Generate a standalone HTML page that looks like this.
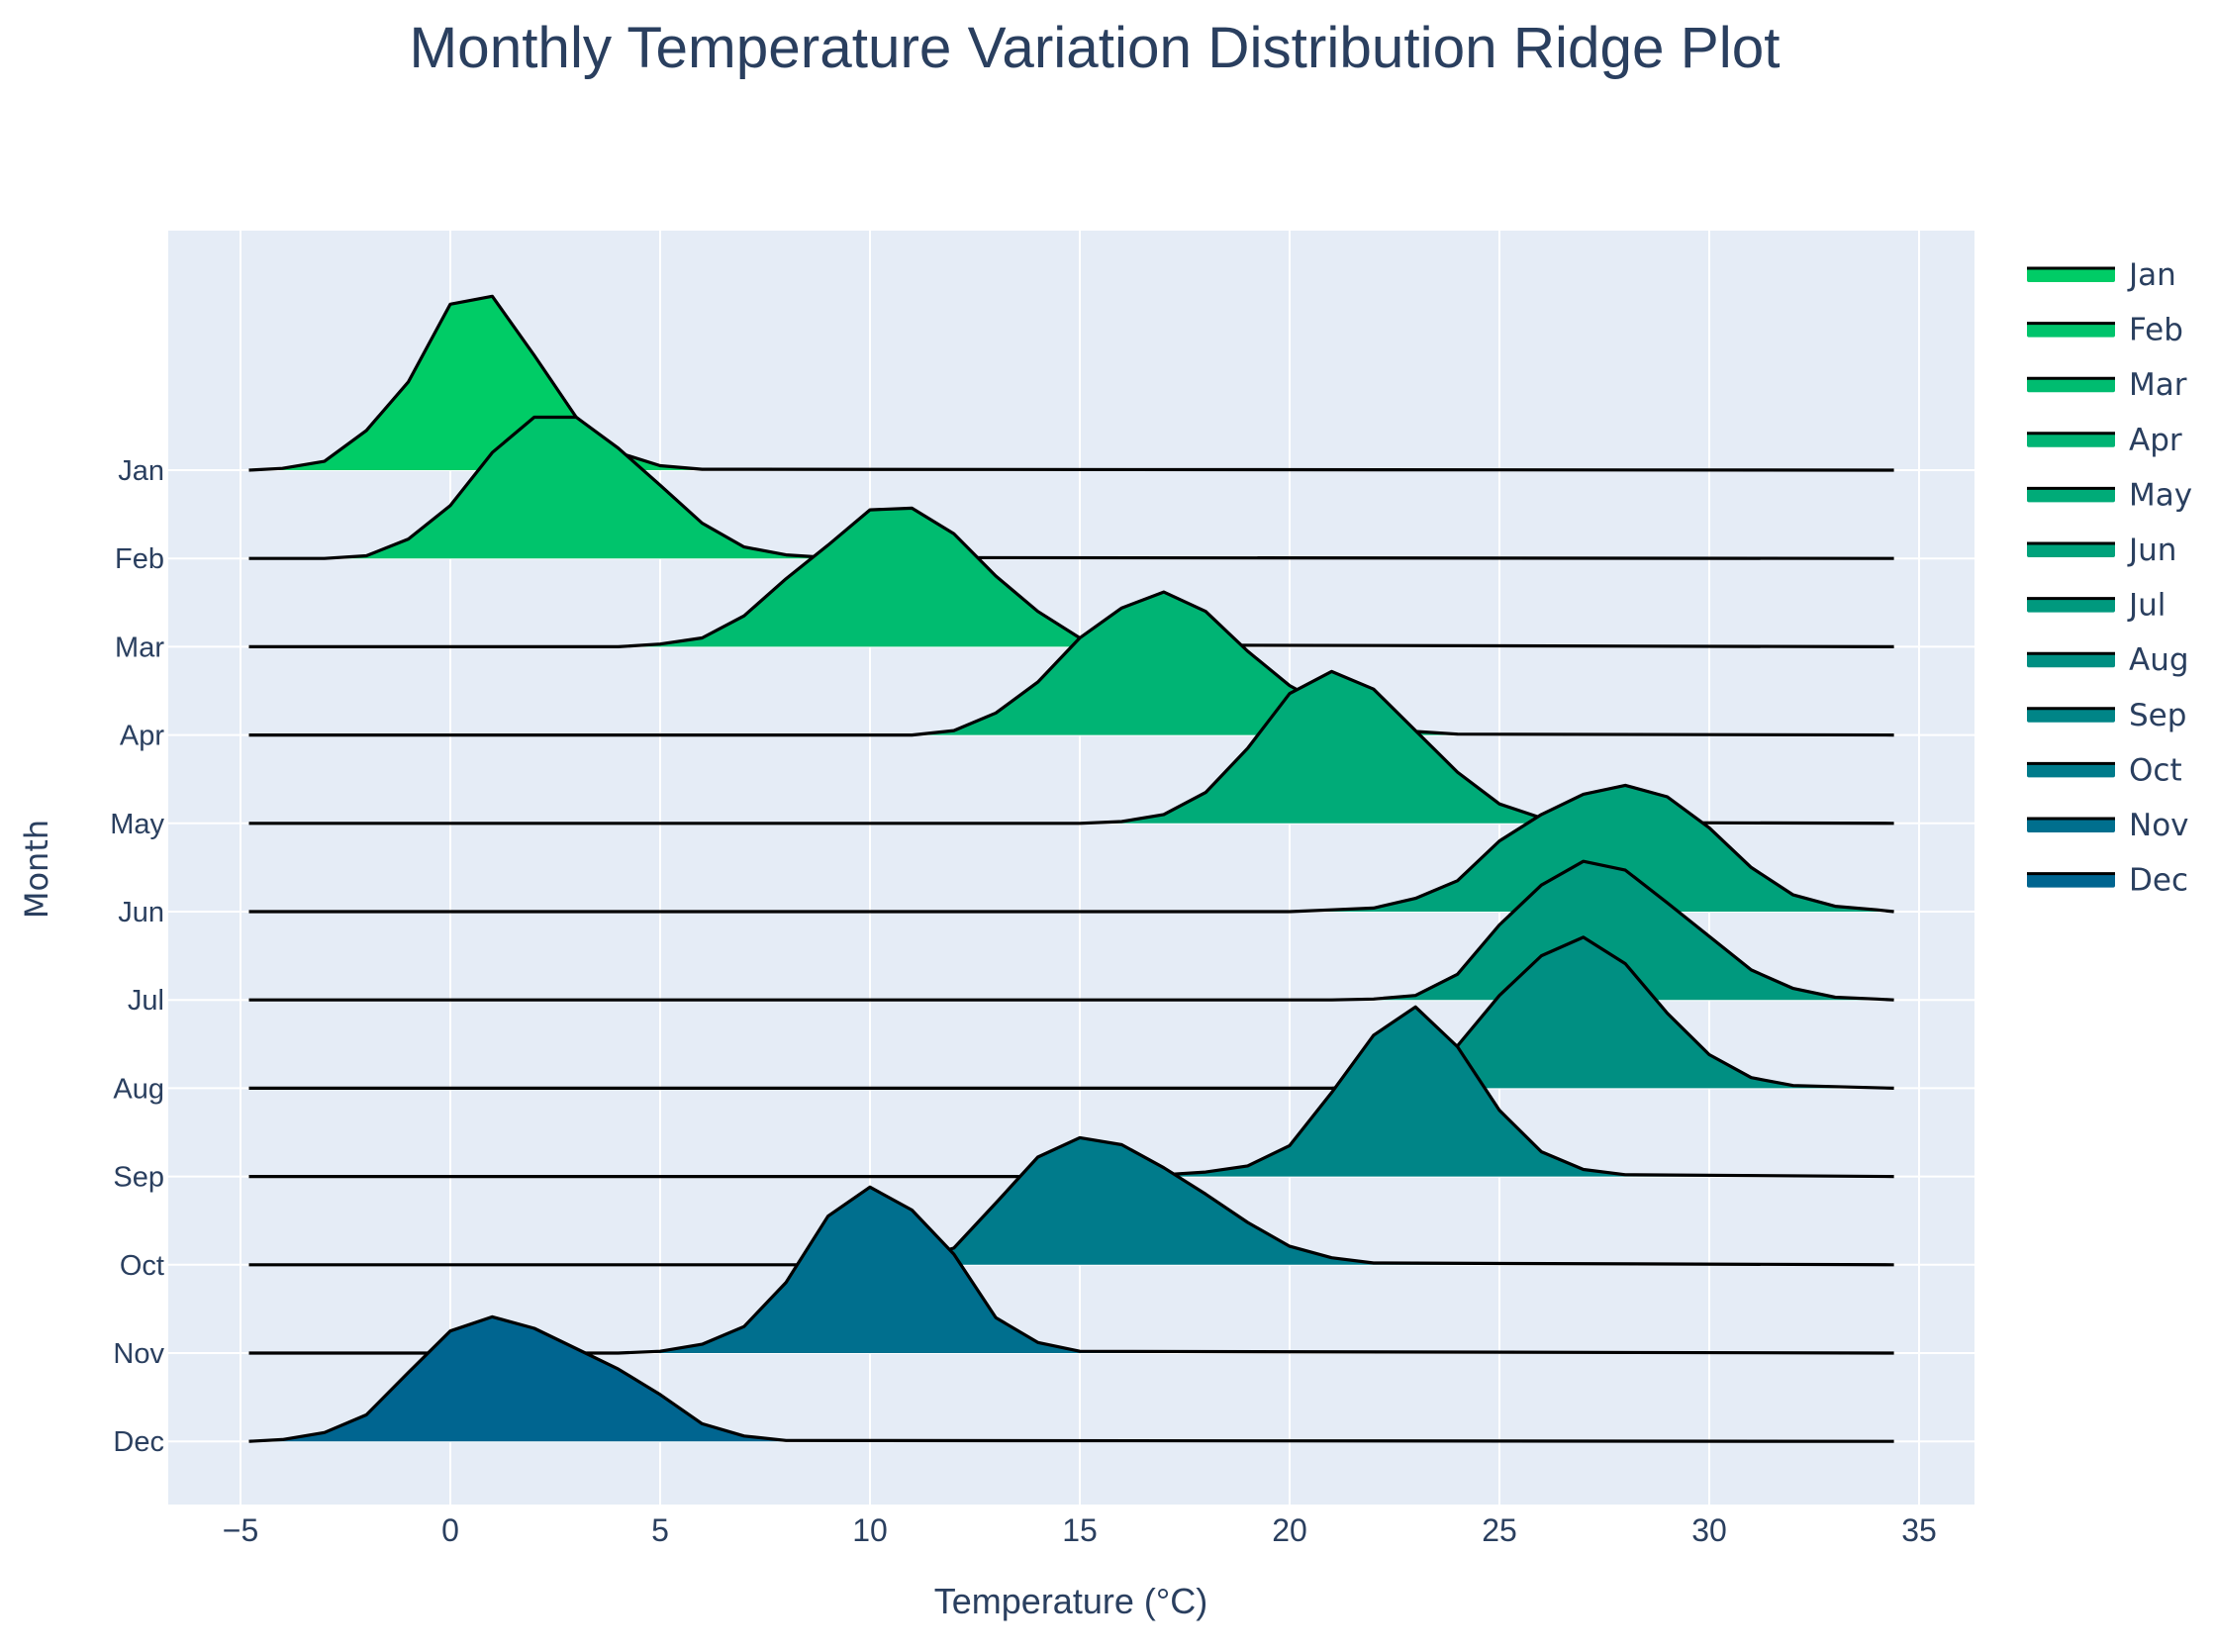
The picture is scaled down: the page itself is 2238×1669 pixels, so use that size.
<!DOCTYPE html>
<html><head><meta charset="utf-8"><style>
html,body{margin:0;padding:0;background:#fff;}
svg{display:block;}
</style></head><body>
<svg id="chart" width="2238" height="1669" viewBox="0 0 2238 1669" xmlns="http://www.w3.org/2000/svg">
<text x="1106" y="68" text-anchor="middle" font-family="Liberation Sans, sans-serif" font-size="58" fill="#2a3f5f" textLength="1385" lengthAdjust="spacingAndGlyphs">Monthly Temperature Variation Distribution Ridge Plot</text>
<rect x="170" y="233" width="1825" height="1287" fill="#e5ecf6"/>
<g id="grid"></g>
<g id="ridges"></g>
<g id="xticks"></g>
<g id="yticks"></g>
<g id="legend"></g>
<text x="1082" y="1630" text-anchor="middle" font-family="Liberation Sans, sans-serif" font-size="36" fill="#2a3f5f">Temperature (°C)</text>
<text transform="translate(48,878) rotate(-90)" text-anchor="middle" font-family="DejaVu Sans, sans-serif" font-size="32" fill="#2a3f5f">Month</text>
</svg>
<script>
const months = ["Jan","Feb","Mar","Apr","May","Jun","Jul","Aug","Sep","Oct","Nov","Dec"];
const xTicks = [-5,0,5,10,15,20,25,30,35];
const tempStart = -5;
// densities at integer temperatures starting from -5 (row-height units)
const janDensity = [0,0.02,0.1,0.45,1.0,1.88,1.97,1.3,0.6,0.2,0.05,0.01];
const febDensity = [0,0,0,0.03,0.22,0.6,1.2,1.6,1.6,1.25,0.83,0.4,0.13,0.04,0.01];
const marDensity = [0,0,0,0,0,0,0,0,0,0,0.03,0.1,0.35,0.77,1.15,1.55,1.57,1.28,0.8,0.4,0.1,0.02];
const aprDensity = [0,0,0,0,0,0,0,0,0,0,0,0,0,0,0,0,0,0.05,0.25,0.6,1.1,1.44,1.62,1.4,0.95,0.56,0.3,0.12,0.04,0.01];
const mayDensity = [0,0,0,0,0,0,0,0,0,0,0,0,0,0,0,0,0,0,0,0,0,0.02,0.1,0.35,0.85,1.47,1.72,1.52,1.05,0.58,0.22,0.06,0.01];
const junDensity = [0,0,0,0,0,0,0,0,0,0,0,0,0,0,0,0,0,0,0,0,0,0,0,0,0,0,0.02,0.04,0.15,0.35,0.8,1.1,1.33,1.43,1.3,0.95,0.5,0.19,0.06,0.02];
const julDensity = [0,0,0,0,0,0,0,0,0,0,0,0,0,0,0,0,0,0,0,0,0,0,0,0,0,0,0,0.01,0.05,0.29,0.85,1.3,1.57,1.47,1.1,0.72,0.34,0.13,0.03,0.01];
const augDensity = [0,0,0,0,0,0,0,0,0,0,0,0,0,0,0,0,0,0,0,0,0,0,0,0,0,0,0,0.03,0.15,0.48,1.05,1.5,1.71,1.41,0.85,0.38,0.12,0.03];
const sepDensity = [0,0,0,0,0,0,0,0,0,0,0,0,0,0,0,0,0,0,0,0,0,0,0.02,0.05,0.12,0.35,0.95,1.6,1.92,1.47,0.75,0.28,0.08,0.02];
const octDensity = [0,0,0,0,0,0,0,0,0,0,0,0,0,0,0,0,0.05,0.19,0.7,1.22,1.44,1.36,1.1,0.8,0.48,0.21,0.08,0.02];
const novDensity = [0,0,0,0,0,0,0,0,0,0,0.02,0.1,0.3,0.8,1.55,1.88,1.62,1.12,0.4,0.12,0.02];
const decDensity = [0,0.02,0.1,0.3,0.78,1.25,1.41,1.28,1.05,0.82,0.53,0.2,0.06,0.01];
const densities = [janDensity,febDensity,marDensity,aprDensity,mayDensity,junDensity,julDensity,augDensity,sepDensity,octDensity,novDensity,decDensity];
const colors = ["#00cc66","#00c46c","#00bc70","#00b474","#00ab78","#00a27b","#00997e","#008f82","#008587","#007b8b","#006f8e","#006590"];

const NS = "http://www.w3.org/2000/svg";
const X0 = 243, PXDEG = 42.4, Y0 = 475, ROW = 89.2;
const lineMin = -4.8, lineMax = 34.4;
function xs(t){ return X0 + (t + 5) * PXDEG; }
function ys(i){ return Y0 + i * ROW; }
function mk(tag, attrs, parent){ const e = document.createElementNS(NS, tag); for (const k in attrs) e.setAttribute(k, attrs[k]); parent.appendChild(e); return e; }

const grid = document.getElementById('grid');
xTicks.forEach(t => {
  const l = mk('line', {x1: xs(t), x2: xs(t), y1: 233, y2: 1520, stroke: '#fff', 'stroke-width': 2}, grid);
  
  
});
months.forEach((m, i) => {
  const l = mk('line', {x1: 170, x2: 1995, y1: ys(i), y2: ys(i), stroke: '#fff', 'stroke-width': 2}, grid);
  
  
});

const ridges = document.getElementById('ridges');
months.forEach((m, i) => {
  const d = densities[i];
  const base = ys(i);
  const pts = [[xs(lineMin), base]];
  d.forEach((v, k) => {
    const t = tempStart + k;
    if (t > lineMin && t < lineMax) pts.push([xs(t), base - v * ROW]);
  });
  pts.push([xs(lineMax), base]);
  const dstr = pts.map((p, k) => (k ? 'L' : 'M') + p[0].toFixed(1) + ',' + p[1].toFixed(1)).join(' ');
  const g = mk('g', {}, ridges);
  
  
  const f = mk('path', {d: dstr + ' Z', fill: colors[i], stroke: 'none'}, g);
  
  
  const l = mk('path', {d: dstr, fill: 'none', stroke: '#000', 'stroke-width': 3.2, 'stroke-linejoin': 'round'}, g);
  
  
});

const xt = document.getElementById('xticks');
xTicks.forEach(t => {
  const e = mk('text', {x: xs(t), y: 1557, 'text-anchor': 'middle', 'font-family': 'Liberation Sans, sans-serif', 'font-size': 32, fill: '#2a3f5f'}, xt);
  e.textContent = t < 0 ? '\u2212' + Math.abs(t) : String(t);
  
  
});
const yt = document.getElementById('yticks');
months.forEach((m, i) => {
  const e = mk('text', {x: 166, y: ys(i) + 10, 'text-anchor': 'end', 'font-family': 'Liberation Sans, sans-serif', 'font-size': 29, fill: '#2a3f5f'}, yt);
  e.textContent = m;
  
  
});
const lg = document.getElementById('legend');
months.forEach((m, i) => {
  const y = 277 + i * 55.6;
  const g = mk('g', {}, lg);
  
  
  const r = mk('rect', {x: 2048, y: y - 7, width: 89, height: 15, rx: 2, fill: colors[i]}, g);
  
  
  const l = mk('line', {x1: 2048, x2: 2137, y1: y - 6, y2: y - 6, stroke: '#000', 'stroke-width': 3}, g);
  
  
  const t = mk('text', {x: 2151, y: y + 11, 'font-family': 'DejaVu Sans, sans-serif', 'font-size': 31, fill: '#2a3f5f'}, g);
  t.textContent = m;
  
  
});
</script>
</body></html>
